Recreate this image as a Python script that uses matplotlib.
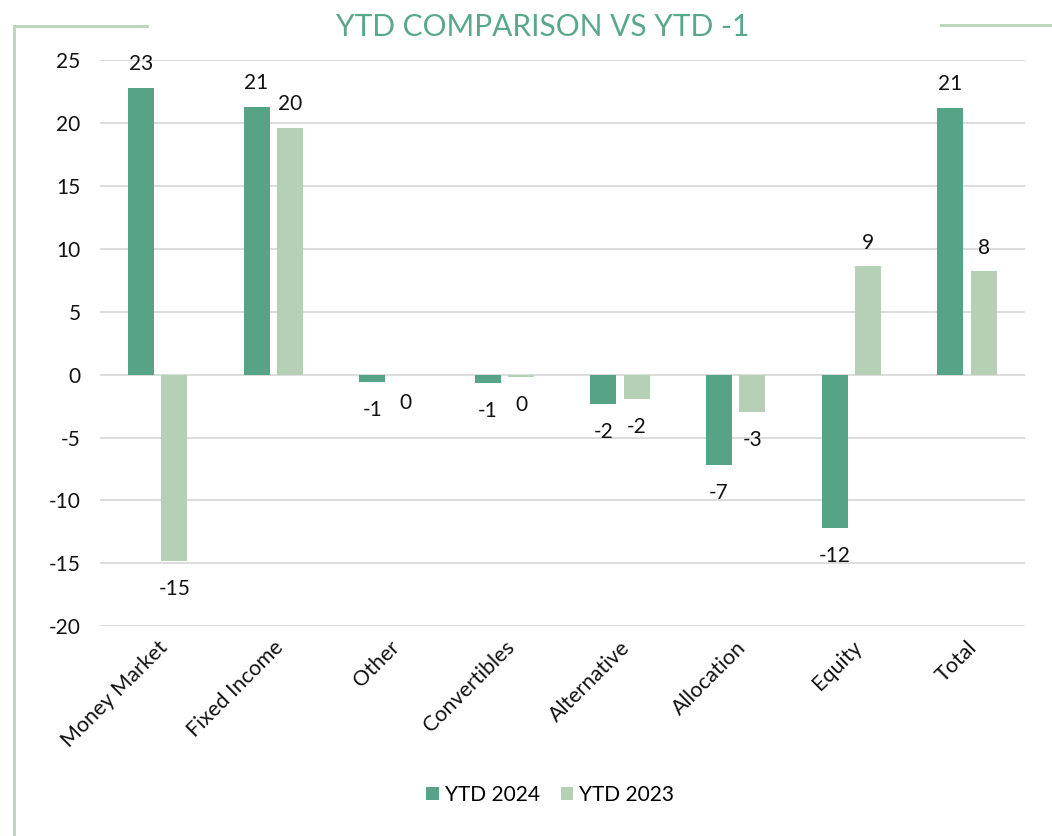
import matplotlib.pyplot as plt
import numpy as np
from matplotlib.lines import Line2D

categories = ['Money Market', 'Fixed Income', 'Other', 'Convertibles',
              'Alternative', 'Allocation', 'Equity', 'Total']
ytd_2024 = [22.8, 21.3, -0.55, -0.7, -2.3, -7.2, -12.2, 21.2]
ytd_2023 = [-14.8, 19.6, -0.02, -0.2, -1.9, -3.0, 8.6, 8.2]
yticks = [25, 20, 15, 10, 5, 0, -5, -10, -15, -20]

dark_green = '#56a386'
light_green = '#b5d0b4'
frame_green = '#b7d5b8'

plt.rcParams['font.family'] = ['Lato', 'DejaVu Sans']

fig = plt.figure(figsize=(10.52, 8.36), dpi=100)
ax = fig.add_axes([0.095, 0.251, 0.879, 0.677])

x = np.arange(len(categories))
w = 0.225
off = 0.145
b1 = ax.bar(x - off, ytd_2024, w, color=dark_green, label='YTD 2024', zorder=3)
b2 = ax.bar(x + off, ytd_2023, w, color=light_green, label='YTD 2023', zorder=3)

# etiquetas de datos
for bars in (b1, b2):
    for rect, v in zip(bars, bars.datavalues):
        cx = rect.get_x() + rect.get_width() / 2
        if v >= 0:
            ax.annotate(f'{round(v):d}', (cx, v), xytext=(0, 10), textcoords='offset points',
                        ha='center', va='bottom', fontsize=15, color='#111111')
        else:
            ax.annotate(f'{round(v):d}', (cx, v), xytext=(0, -13), textcoords='offset points',
                        ha='center', va='top', fontsize=15, color='#111111')

ax.set_ylim(-20, 25)
ax.set_xlim(-0.5, len(categories) - 0.5)
ax.set_yticks(yticks)
ax.set_yticklabels([str(t) for t in yticks])
ax.set_xticks(x)
ax.set_xticklabels(categories, rotation=45, ha='right', rotation_mode='anchor', fontsize=15.5)
ax.tick_params(axis='both', length=0, colors='#111111')
ax.tick_params(axis='y', pad=14, labelsize=15)
ax.tick_params(axis='x', pad=8)
ax.yaxis.grid(True, color='#d9d9d9', linewidth=1.3, zorder=0)
for s in ax.spines.values():
    s.set_visible(False)

ax.legend(loc='center', bbox_to_anchor=(0.487, (626 - 795) / 566), ncol=2, frameon=False,
          fontsize=15, handlelength=0.6, handleheight=0.6, handletextpad=0.3,
          columnspacing=1.0)

# titulo y marco
fig.text(0.516, 0.968, 'YTD COMPARISON VS YTD -1', ha='center', va='center',
         fontsize=21.5, color='#5aa88a')
fig.add_artist(Line2D([14 / 1052, 147 / 1052], [1 - 26 / 836] * 2, color=frame_green, lw=2))
fig.add_artist(Line2D([14 / 1052, 14 / 1052], [1 - 26 / 836, 0], color=frame_green, lw=2))
fig.add_artist(Line2D([941 / 1052, 1.0], [1 - 25 / 836] * 2, color=frame_green, lw=2))

fig.savefig('out.png', dpi=100)
